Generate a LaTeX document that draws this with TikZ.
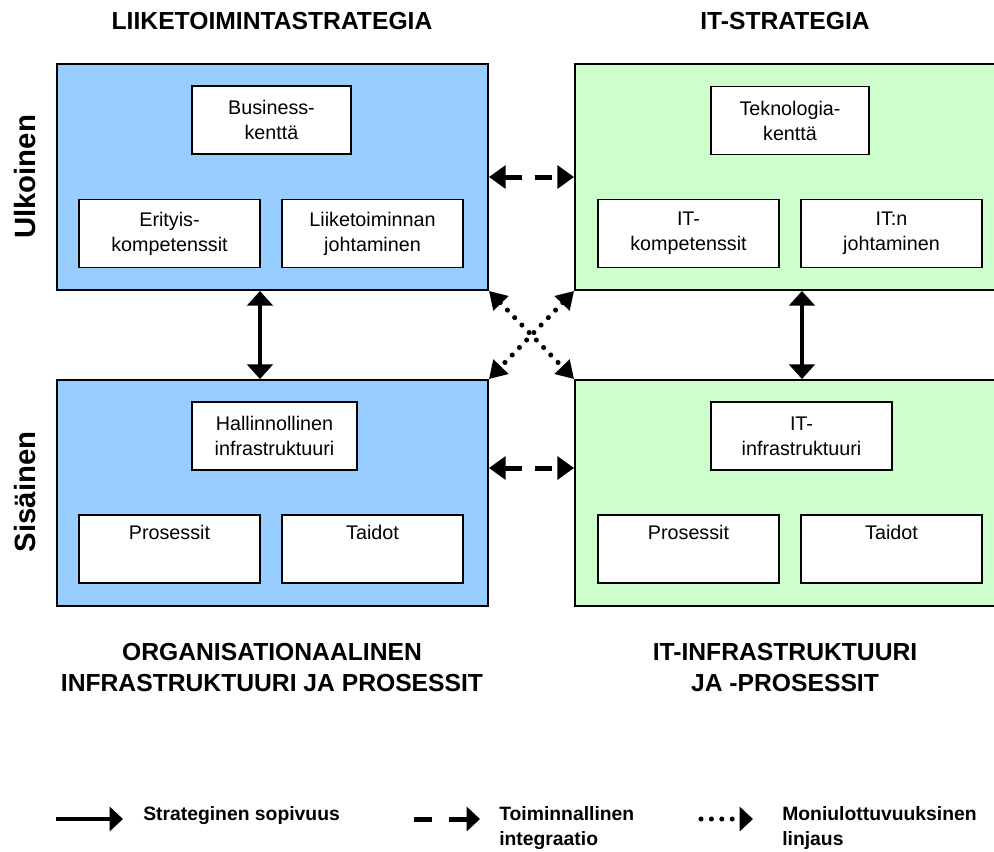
\documentclass[tikz,border=0pt]{standalone}
\usepackage{fontspec}
\setmainfont{Liberation Sans}
\usetikzlibrary{arrows.meta}
\definecolor{bizblue}{RGB}{153,204,255}
\definecolor{itgreen}{RGB}{204,255,204}
\tikzset{
  fat/.tip={Triangle[length=11pt,width=19pt]},
  quadrant/.style={
    rectangle, draw=black, line width=1.4pt, inner sep=0pt,
    minimum width=323.25pt, minimum height=169.5pt
  },
  element/.style={
    rectangle, draw=black, line width=1pt, fill=white, inner sep=0pt,
    minimum height=51pt, align=center, font=\fontsize{14.8}{18.75}\selectfont
  },
  heading/.style={font=\fontsize{18.5}{23.25}\selectfont\bfseries, align=center},
  side/.style={font=\fontsize{22}{26}\selectfont\bfseries, rotate=90},
  legendtext/.style={
    font=\fontsize{14.5}{18.75}\selectfont\bfseries, align=left,
    anchor=north west, inner sep=0pt
  },
  fitarrow/.style={line width=3.4pt},
  integ/.style={line width=3.75pt, dash pattern=on 12.75pt off 9.75pt},
  linj/.style={line width=3.8pt, line cap=round, dash pattern=on 0pt off 7.8pt}
}

\begin{document}
\begin{tikzpicture}[x=0.75pt, y=-0.75pt]
  \useasboundingbox (0,0) rectangle (994,851);

  % Column and row titles
  \node[heading] (hliike) at (272,21) {LIIKETOIMINTASTRATEGIA};
  \node[heading] (hit) at (785,21) {IT-STRATEGIA};
  \node[heading] (horg) at (272,667.5) {ORGANISATIONAALINEN\\INFRASTRUKTUURI JA PROSESSIT};
  \node[heading] (hitinf) at (785,667.5) {IT-INFRASTRUKTUURI\\JA -PROSESSIT};
  \node[side] (ulk) at (25,177) {Ulkoinen};
  \node[side] (sis) at (25,492) {Sisäinen};

  % Four quadrants
  \node[quadrant, fill=bizblue] (liike) at (272.5,177) {};
  \node[quadrant, fill=itgreen] (itstrat) at (790.5,177) {};
  \node[quadrant, fill=bizblue] (org) at (272.5,493) {};
  \node[quadrant, fill=itgreen] (itinf) at (790.5,493) {};

  % Elements, business strategy
  \node[element, minimum width=119.25pt] (busi) at (271.5,120) {Business-\\kenttä};
  \node[element, minimum width=135.75pt] (erit) at (169.5,233.5) {Erityis-\\kompetenssit};
  \node[element, minimum width=135.75pt] (johto) at (372.5,233.5) {Liiketoiminnan\\johtaminen};

  % Elements, IT strategy
  \node[element, minimum width=118.5pt] (tekno) at (790,120.5) {Teknologia-\\kenttä};
  \node[element, minimum width=135.75pt] (itkomp) at (688.5,233.5) {IT-\\kompetenssit};
  \node[element, minimum width=135.75pt] (itjoht) at (891.5,233.5) {IT:n\\johtaminen};

  % Elements, organisational infrastructure
  \node[element, minimum width=123.75pt] (hall) at (274.5,436) {Hallinnollinen\\infrastruktuuri};
  \node[element, minimum width=135.75pt] (oproc) at (169.5,549) {Prosessit\\\strut};
  \node[element, minimum width=135.75pt] (otaid) at (372.5,549) {Taidot\\\strut};

  % Elements, IT infrastructure
  \node[element, minimum width=135.75pt] (itinfra) at (801.5,436) {IT-\\infrastruktuuri};
  \node[element, minimum width=135.75pt] (iproc) at (688.5,549) {Prosessit\\\strut};
  \node[element, minimum width=135.75pt] (itaid) at (891.5,549) {Taidot\\\strut};

  % Strategic fit
  \draw[fitarrow, fat-fat] ([xshift=-9.4pt]liike.south) -- ([xshift=-9.4pt]org.north);
  \draw[fitarrow, fat-fat] ([xshift=8.6pt]itstrat.south) -- ([xshift=8.6pt]itinf.north);

  % Functional integration
  \draw[integ, {Triangle[length=12.5pt,width=17pt]}-{Triangle[length=12.5pt,width=17pt]}]
    (liike.east) -- (itstrat.west);
  \draw[integ, {Triangle[length=12.5pt,width=17pt]}-{Triangle[length=12.5pt,width=17pt]}]
    ([yshift=18.75pt]org.east) -- ([yshift=18.75pt]itinf.west);

  % Cross-dimensional alignment
  \draw[linj, {Triangle[length=13pt,width=15pt]}-{Triangle[length=13pt,width=15pt]}]
    (liike.south east) -- (itinf.north west);
  \draw[linj, {Triangle[length=13pt,width=15pt]}-{Triangle[length=13pt,width=15pt]}]
    (itstrat.south west) -- (org.north east);

  % Legend
  \coordinate (s1) at (56,819);
  \coordinate (s2) at (123,819);
  \draw[fitarrow, -{Triangle[length=10pt,width=18pt]}] (s1) -- (s2);
  \node[legendtext] (lstrat) at (143,806) {Strateginen sopivuus};

  \coordinate (d1) at (414,819);
  \coordinate (d2) at (480,819);
  \draw[integ, dash pattern=on 13.5pt off 12.75pt, -{Triangle[length=10pt,width=18pt]}] (d1) -- (d2);
  \node[legendtext] (lint) at (499,806) {Toiminnallinen\\integraatio};

  \coordinate (p1) at (701,819);
  \coordinate (p2) at (753,819);
  \draw[linj, -{Triangle[length=10pt,width=18pt]}] (p1) -- (p2);
  \node[legendtext] (llin) at (782,806) {Moniulottuvuuksinen\\linjaus};
\end{tikzpicture}
\end{document}
